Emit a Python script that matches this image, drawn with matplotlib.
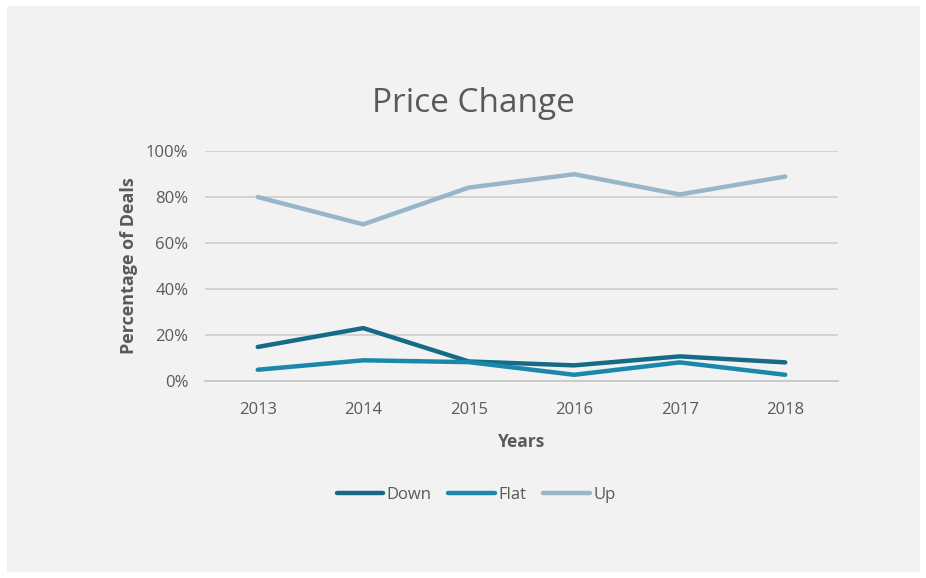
import matplotlib.pyplot as plt
import matplotlib.patches as patches
import matplotlib.ticker as ticker

years = ["2013", "2014", "2015", "2016", "2017", "2018"]
down = [14.8, 23.0, 8.5, 6.8, 10.7, 8.1]
flat = [4.9, 9.0, 8.2, 2.7, 8.1, 2.7]
up = [80.0, 68.1, 84.1, 89.9, 81.1, 88.9]

plt.rcParams["font.family"] = ["Open Sans", "DejaVu Sans"]
text_color = "#595959"

fig = plt.figure(figsize=(9.26, 5.78), dpi=100)
fig.patch.set_facecolor("white")

# grey chart panel sitting inside a thin white margin
fig.patches.append(patches.Rectangle((7 / 926, 6 / 578), 913 / 926, 566 / 578,
                                     transform=fig.transFigure, facecolor="#f2f2f2",
                                     edgecolor="none", zorder=-5))

ax = fig.add_axes([205 / 926, 1 - 381 / 578, 633 / 926, 230 / 578])
ax.set_zorder(2)
ax.set_facecolor("none")

x = range(len(years))
ax.plot(x, [v / 100 for v in down], color="#156b86", lw=3.2, label="Down", solid_capstyle="round")
ax.plot(x, [v / 100 for v in flat], color="#1a87ab", lw=3.2, label="Flat", solid_capstyle="round")
ax.plot(x, [v / 100 for v in up], color="#98b6ca", lw=3.2, label="Up", solid_capstyle="round")

ax.set_xlim(-0.5, len(years) - 0.5)
ax.set_ylim(0, 1)
ax.set_yticks([0, 0.2, 0.4, 0.6, 0.8, 1.0])
ax.yaxis.set_major_formatter(ticker.PercentFormatter(1.0, decimals=0))
ax.set_xticks(list(x))
ax.set_xticklabels(years)
ax.grid(axis="y", color="#d0d0d0", lw=1.3)
ax.set_axisbelow(True)
for s in ["top", "right", "left"]:
    ax.spines[s].set_visible(False)
ax.spines["bottom"].set_color("#c8c8c8")
ax.spines["bottom"].set_linewidth(1.3)
ax.tick_params(axis="y", length=0, colors=text_color, labelsize=12, pad=12)
ax.tick_params(axis="x", length=0, colors=text_color, labelsize=12, pad=15)

ax.set_xlabel("Years", fontsize=12.5, fontweight="bold", color=text_color, labelpad=11)
ax.set_ylabel("Percentage of Deals", fontsize=13, fontweight="bold", color=text_color, labelpad=6)

fig.text(473 / 926, 1 - 103 / 578, "Price Change", ha="center", va="center",
         fontsize=24, color=text_color, zorder=3)

leg = fig.legend(loc="center", bbox_to_anchor=(476 / 926, 1 - 495 / 578), ncol=3,
                 frameon=False, fontsize=12, handlelength=2.8, handletextpad=0.2,
                 columnspacing=1.0)
for t in leg.get_texts():
    t.set_color(text_color)

fig.savefig("out.png", dpi=100)
